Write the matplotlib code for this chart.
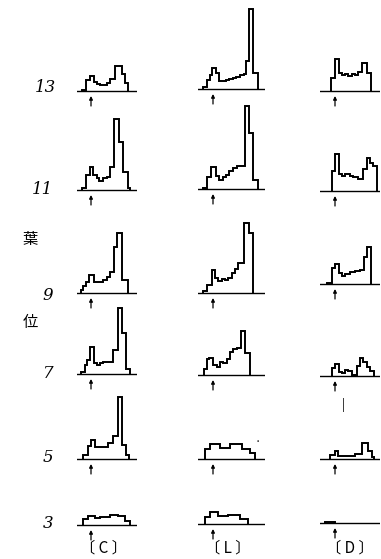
import numpy as np
import matplotlib.pyplot as plt

plt.rcParams['font.family'] = ['Noto Sans CJK JP', 'DejaVu Sans']

# ------------------------------ data ------------------------------
# class edges are given relative to the arrow (reference class = 0)
# heights in relative frequency units (same scale for every panel)
columns = ['C', 'L', 'D']
col_labels = ['〔 C 〕', '〔 L 〕', '〔 D 〕']
rows = ['13', '11', '9', '7', '5', '3']

C13_e = [-9, -5, -1, 3, 6, 9, 16, 19, 24, 31, 34, 37]
C13_h = [1, 11, 15, 9, 7, 6, 8, 12, 25, 17, 8]
C11_e = [-9, -5, -1, 2, 6, 8, 12, 16, 19, 23, 28, 32, 37, 39]
C11_h = [2, 15, 23, 15, 12, 9, 12, 13, 23, 71, 48, 18, 2]
C9_e = [-10, -8, -5, -2, 3, 12, 16, 19, 23, 26, 31, 37]
C9_h = [3, 7, 11, 18, 11, 13, 16, 21, 46, 60, 13]
C7_e = [-10, -6, -4, -1, 3, 6, 9, 12, 17, 22, 27, 31, 35, 39]
C7_h = [2, 9, 14, 27, 11, 9, 11, 12, 12, 24, 66, 41, 5]
C5_e = [-8, -3, 0, 4, 17, 22, 27, 31, 35, 38]
C5_h = [4, 13, 19, 12, 16, 23, 62, 14, 4]
C3_e = [-8, -3, 4, 9, 19, 27, 34, 39]
C3_h = [6, 9, 7, 8, 10, 9, 4]

L13_e = [-10, -6, -3, -1, 3, 6, 9, 13, 16, 20, 23, 27, 31, 33, 36, 40, 45]
L13_h = [2, 9, 14, 21, 16, 8, 8, 9, 10, 11, 12, 14, 15, 28, 80, 16]
L11_e = [-10, -6, -2, 3, 6, 10, 13, 16, 20, 24, 32, 36, 40, 45]
L11_h = [1, 12, 22, 13, 9, 12, 14, 18, 21, 23, 83, 56, 9]
L9_e = [-10, -6, -1, 2, 5, 9, 12, 15, 19, 22, 25, 31, 36, 40]
L9_h = [2, 8, 23, 15, 12, 14, 13, 15, 20, 24, 30, 70, 60]
L7_e = [-9, -6, -4, 0, 4, 7, 10, 14, 17, 20, 24, 28, 32, 37]
L7_h = [6, 16, 17, 10, 8, 13, 12, 16, 23, 26, 27, 44, 22]
L5_e = [-8, -3, 7, 17, 29, 37, 42]
L5_h = [10, 15, 11, 15, 10, 6]
L3_e = [-8, -3, 5, 15, 27, 35]
L3_h = [7, 12, 8, 9, 5]

D13_e = [-4, 0, 4, 7, 10, 13, 17, 20, 23, 27, 32, 36]
D13_h = [13, 32, 18, 16, 17, 15, 17, 16, 19, 28, 18]
D11_e = [-3, 0, 4, 7, 10, 15, 18, 23, 28, 32, 35, 38, 42]
D11_h = [20, 37, 17, 15, 17, 15, 14, 12, 22, 33, 28, 25]
D9_e = [-8, -3, 0, 4, 7, 10, 15, 20, 25, 29, 32, 36]
D9_h = [1, 16, 20, 11, 8, 10, 12, 13, 14, 27, 37]
D7_e = [-3, 0, 4, 7, 10, 13, 17, 22, 25, 28, 32, 35, 39]
D7_h = [8, 12, 4, 3, 6, 5, 1, 10, 18, 14, 9, 5]
D5_e = [-5, 0, 3, 20, 27, 33, 37, 39]
D5_h = [4, 8, 3, 5, 16, 8, 2]
D3_e = [-10, 0]
D3_h = [1]

hists = {
    'C': [(C13_e, C13_h), (C11_e, C11_h), (C9_e, C9_h), (C7_e, C7_h), (C5_e, C5_h), (C3_e, C3_h)],
    'L': [(L13_e, L13_h), (L11_e, L11_h), (L9_e, L9_h), (L7_e, L7_h), (L5_e, L5_h), (L3_e, L3_h)],
    'D': [(D13_e, D13_h), (D11_e, D11_h), (D9_e, D9_h), (D7_e, D7_h), (D5_e, D5_h), (D3_e, D3_h)],
}

# ------------------------------ layout (pixels) ------------------------------
W, H = 381, 559
arrow_x = {'C': 91, 'L': 213, 'D': 335}
xrange_ = {'C': (-14, 46), 'L': (-15, 52), 'D': (-15, 45)}
base_y = {'C': [91, 190, 293, 374, 459, 525],
          'L': [89, 189, 293, 375, 459, 524],
          'D': [91, 191, 284, 376, 459, 523]}
row_y = [88, 189, 296, 373, 457, 523]
row_x = [45, 42, 48, 48, 48, 48]

fig = plt.figure(figsize=(W / 100, H / 100), dpi=100)
fig.patch.set_facecolor('white')

for c in columns:
    x0, x1 = xrange_[c]
    for r, (e, h) in enumerate(hists[c]):
        by = base_y[c][r]
        left = arrow_x[c] + x0
        ax = fig.add_axes([left / W, 1 - (by + 20) / H, (x1 - x0) / W, 120 / H])
        ax.set_xlim(x0, x1)
        ax.set_ylim(-20, 100)
        ax.axis('off')
        ax.stairs(h, e, baseline=0, color='black', lw=1.4)
        ax.plot([x0, x1], [0, 0], color='black', lw=1.0)
        ax.annotate('', xy=(0, -5), xytext=(0, -15),
                    arrowprops=dict(arrowstyle='-|>', color='black', lw=0.9,
                                    mutation_scale=5, shrinkA=0, shrinkB=0))

for lab, x, y in zip(rows, row_x, row_y):
    fig.text(x / W, 1 - y / H, lab, fontsize=12, style='italic',
             family='DejaVu Serif', ha='center', va='center')

fig.text(30 / W, 1 - 240 / H, '葉', fontsize=11, ha='center', va='center')
fig.text(30 / W, 1 - 322 / H, '位', fontsize=11, ha='center', va='center')

for lab, x in zip(col_labels, [103, 228, 350]):
    fig.text(x / W, 1 - 548 / H, lab, fontsize=11, ha='center', va='center')

fig.text(343 / W, 1 - 405 / H, '|', fontsize=9, ha='center', va='center')
fig.text(258 / W, 1 - 442 / H, '·', fontsize=8, ha='center', va='center')

fig.savefig('out.png', dpi=100)
